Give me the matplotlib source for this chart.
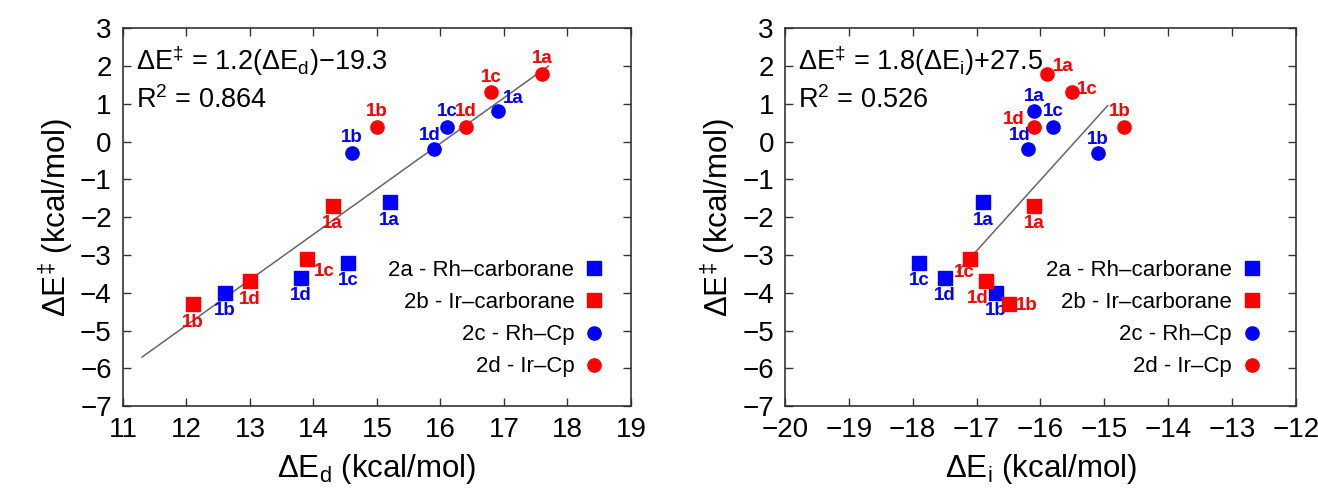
import matplotlib
matplotlib.use('Agg')
import matplotlib.pyplot as plt

plt.rcParams['font.family'] = ['Liberation Sans', 'DejaVu Sans']
plt.rcParams['mathtext.fontset'] = 'custom'
plt.rcParams['mathtext.rm'] = 'Liberation Sans'
plt.rcParams['mathtext.it'] = 'Liberation Sans:italic'

# compound labels, same order in every series
labels = ['1a', '1b', '1c', '1d']
series_names = ['2a - Rh\u2013carborane', '2b - Ir\u2013carborane', '2c - Rh\u2013Cp', '2d - Ir\u2013Cp']

# barrier heights (kcal/mol)
barrier_2a = [-1.6, -4.0, -3.2, -3.6]
barrier_2b = [-1.7, -4.3, -3.1, -3.7]
barrier_2c = [0.8, -0.3, 0.4, -0.2]
barrier_2d = [1.8, 0.4, 1.3, 0.4]

# distortion energies (kcal/mol)
dist_2a = [15.2, 12.6, 14.55, 13.8]
dist_2b = [14.3, 12.1, 13.9, 13.0]
dist_2c = [16.9, 14.6, 16.1, 15.9]
dist_2d = [17.6, 15.0, 16.8, 16.4]

# interaction energies (kcal/mol)
inter_2a = [-16.9, -16.7, -17.9, -17.5]
inter_2b = [-16.1, -16.5, -17.1, -16.85]
inter_2c = [-16.1, -15.1, -15.8, -16.2]
inter_2d = [-15.9, -14.7, -15.5, -16.1]

# fitted lines, endpoints as drawn
fit_d_x = [11.3, 17.7]
fit_d_y = [-5.7, 2.0]
fit_i_x = [-17.3, -14.95]
fit_i_y = [-3.45, 0.95]

styles = [('s', 'blue'), ('s', 'red'), ('o', 'blue'), ('o', 'red')]

# label offsets in points (dx, dy) for each point, per panel
off_d = [
    [(0, -13), (0, -13), (0, -13), (0, -13)],
    [(0, -13), (0, -13), (12, -9), (0, -13)],
    [(11, 9), (0, 11), (0, 11), (-3, 10)],
    [(0, 11), (0, 11), (0, 11), (0, 11)],
]
off_i = [
    [(0, -13), (0, -13), (0, -13), (0, -13)],
    [(0, -13), (13, -1), (-4, -10), (-6, -12)],
    [(0, 11), (0, 10), (0, 11), (-6, 10)],
    [(12, 5), (-3, 11), (11, 2), (-15, 5)],
]


def draw(ax, xs, ys, offsets, fit_x, fit_y, eqn, r2, xlabel, xlim, xticks, leg_x):
    ax.plot(fit_x, fit_y, color='#666666', lw=1.1, zorder=1)
    for (m, c), x, y, name, offs in zip(styles, xs, ys, series_names, offsets):
        ax.plot(x, y, m, color=c, ms=9.5, ls='none', label=name, zorder=3)
        for xi, yi, lab, (dx, dy) in zip(x, y, labels, offs):
            ax.annotate(lab, (xi, yi), xytext=(dx, dy), textcoords='offset points',
                        ha='center', va='center', color=c, fontsize=13.5,
                        fontweight='bold')
    ax.set_xlim(*xlim)
    ax.set_ylim(-7, 3)
    ax.set_xticks(xticks)
    ax.set_yticks(range(-7, 4))
    ax.tick_params(direction='in', length=6, width=1, top=True, right=True,
                   labelsize=20, pad=8, color='#333333')
    for s in ax.spines.values():
        s.set_color('#333333')
        s.set_linewidth(1.2)
    ax.set_xlabel(xlabel, fontsize=22.5, labelpad=6)
    ax.set_ylabel('\u0394E$^{\u2021}$ (kcal/mol)', fontsize=22.5, labelpad=4)
    ax.text(0.025, 0.915, eqn, transform=ax.transAxes, fontsize=19.5, va='center')
    ax.text(0.025, 0.81, r2, transform=ax.transAxes, fontsize=19.5, va='center')
    leg = ax.legend(loc='lower right', bbox_to_anchor=(leg_x, 0.035), frameon=False,
                    markerfirst=False, fontsize=16, labelspacing=0.5,
                    handlelength=0.8, handletextpad=0.5, borderaxespad=0.3)
    for t in leg.get_texts():
        t.set_ha('right')


fig = plt.figure(figsize=(13.18, 5.04), dpi=100)
ax1 = fig.add_axes([0.0933, 0.194, 0.3854, 0.75])
ax2 = fig.add_axes([0.5956, 0.194, 0.3877, 0.75])

draw(ax1, [dist_2a, dist_2b, dist_2c, dist_2d],
     [barrier_2a, barrier_2b, barrier_2c, barrier_2d], off_d, fit_d_x, fit_d_y,
     '\u0394E$^{\u2021}$ = 1.2(\u0394E$_{\\mathrm{d}}$)\u221219.3', 'R$^{2}$ = 0.864',
     '\u0394E$_{\\mathrm{d}}$ (kcal/mol)', (11, 19), range(11, 20), 0.976)
draw(ax2, [inter_2a, inter_2b, inter_2c, inter_2d],
     [barrier_2a, barrier_2b, barrier_2c, barrier_2d], off_i, fit_i_x, fit_i_y,
     '\u0394E$^{\u2021}$ = 1.8(\u0394E$_{\\mathrm{i}}$)+27.5', 'R$^{2}$ = 0.526',
     '\u0394E$_{\\mathrm{i}}$ (kcal/mol)', (-20, -12), range(-20, -11), 0.961)

fig.savefig('out.png', dpi=100)
